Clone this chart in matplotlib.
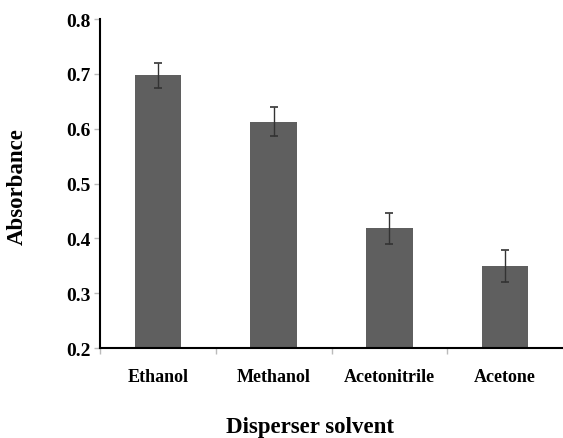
import matplotlib
matplotlib.use("Agg")
import matplotlib.pyplot as plt

categories = ["Ethanol", "Methanol", "Acetonitrile", "Acetone"]
absorbance = [0.697, 0.613, 0.418, 0.350]
errors = [0.023, 0.026, 0.028, 0.029]
y_ticks = [0.2, 0.3, 0.4, 0.5, 0.6, 0.7, 0.8]

plt.rcParams['font.family'] = ['Liberation Serif', 'DejaVu Serif']
plt.rcParams['font.weight'] = 'bold'

fig = plt.figure(figsize=(5.63, 4.39), dpi=100)
ax = fig.add_axes([100/563, 90/439, 463/563, 329/439])

x = list(range(len(categories)))
ax.bar(x, absorbance, width=0.4, color='#5f5f5f', edgecolor='none', zorder=2)
ax.errorbar(x, absorbance, yerr=errors, fmt='none', ecolor='#333333',
            elinewidth=1.0, capsize=3, capthick=1.2, zorder=3)

ax.set_xlim(-0.5, 3.5)
ax.set_ylim(0.2, 0.8)
ax.set_yticks(y_ticks)
ax.set_yticklabels([f"{v:.1f}" for v in y_ticks], fontsize=14, fontweight='bold')
ax.tick_params(axis='y', length=4, width=1, color='#bbbbbb', pad=3)

ax.set_xticks([-0.5, 0.5, 1.5, 2.5])
ax.set_xticklabels([])
ax.tick_params(axis='x', length=4, width=1, color='#bbbbbb')
for xi, c in zip(x, categories):
    ax.text(xi, -0.062, c, transform=ax.get_xaxis_transform(), ha='center', va='top',
            fontsize=13, fontweight='bold')

for s in ['top', 'right']:
    ax.spines[s].set_visible(False)
ax.spines['left'].set_linewidth(1.5)
ax.spines['bottom'].set_linewidth(1.5)

fig.text(310/563, 1 - 428/439, "Disperser solvent", ha='center', va='center',
         fontsize=16.5, fontweight='bold')
fig.text(17/563, 1 - 187/439, "Absorbance", ha='center', va='center', rotation=90,
         fontsize=16.5, fontweight='bold')

fig.savefig("out.png", dpi=100)
